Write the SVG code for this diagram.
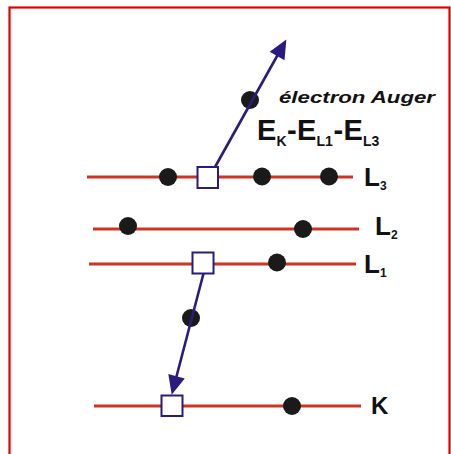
<svg xmlns="http://www.w3.org/2000/svg" width="451" height="454" viewBox="0 0 451 454">
<defs>
<style>
.lvl{stroke:#cf3322;stroke-width:3;fill:none}
.dot{fill:#1a1a1a}
.hole{fill:#ffffff;stroke:#2b1b7f;stroke-width:2}
.arr{stroke:#2b1b7f;stroke-width:2.6;fill:none}
.lab{font-family:"Liberation Sans",Arial,sans-serif;font-weight:bold;fill:#111}
</style>
<marker id="ah" markerUnits="userSpaceOnUse" orient="auto" refX="0" refY="0" markerWidth="30" markerHeight="30" overflow="visible">
<path d="M11,0 L-8,-8.5 L-8,8.5 z" fill="#2b1b7f"/>
</marker>
</defs>
<rect x="9.5" y="7.5" width="440" height="460" fill="#ffffff" stroke="#e00000" stroke-width="2.2"/>

<g id="level-L3">
<line class="lvl" x1="87" y1="177" x2="353" y2="177"/>
<circle class="dot" cx="168" cy="177" r="9"/>
<circle class="dot" cx="262" cy="176.5" r="9"/>
<circle class="dot" cx="329" cy="176.5" r="9"/>
<rect class="hole" x="197.5" y="167" width="20.5" height="21"/>
<text class="lab" x="364" y="186" font-size="26">L<tspan font-size="12" dy="4">3</tspan></text>
</g>

<g id="level-L2">
<line class="lvl" x1="93" y1="229" x2="359" y2="229"/>
<circle class="dot" cx="128" cy="226" r="9"/>
<circle class="dot" cx="303" cy="229" r="9"/>
<text class="lab" x="375" y="235" font-size="26">L<tspan font-size="12" dy="4">2</tspan></text>
</g>

<g id="level-L1">
<line class="lvl" x1="89" y1="264" x2="356" y2="264"/>
<circle class="dot" cx="277" cy="262.5" r="9"/>
<rect class="hole" x="192.5" y="252.5" width="21" height="21"/>
<text class="lab" x="364" y="273" font-size="26">L<tspan font-size="12" dy="4">1</tspan></text>
</g>

<g id="level-K">
<line class="lvl" x1="94" y1="406" x2="361" y2="406"/>
<circle class="dot" cx="292" cy="406" r="9"/>
<rect class="hole" x="161.5" y="395.5" width="21" height="20.5"/>
<text class="lab" x="371" y="414" font-size="24">K</text>
</g>

<g id="auger-electron">
<circle class="dot" cx="250" cy="100" r="9"/>
<circle class="dot" cx="191" cy="318" r="9"/>
<text class="lab" x="279" y="103" font-size="17" font-style="italic" textLength="156" lengthAdjust="spacingAndGlyphs">électron Auger</text>
<text class="lab" font-size="29" y="140"><tspan x="257">E</tspan><tspan x="276.5" font-size="14" dy="6">K</tspan><tspan x="287" dy="-6">-</tspan><tspan x="297">E</tspan><tspan x="316.5" font-size="14" dy="6">L1</tspan><tspan x="333.5" dy="-6">-</tspan><tspan x="343.5">E</tspan><tspan x="363" font-size="14" dy="6">L3</tspan></text>
</g>

<g id="connectors">
<line class="arr" x1="215" y1="167" x2="281" y2="49" marker-end="url(#ah)"/>
<line class="arr" x1="203.5" y1="273.5" x2="174.5" y2="384" marker-end="url(#ah)"/>
</g>
</svg>
